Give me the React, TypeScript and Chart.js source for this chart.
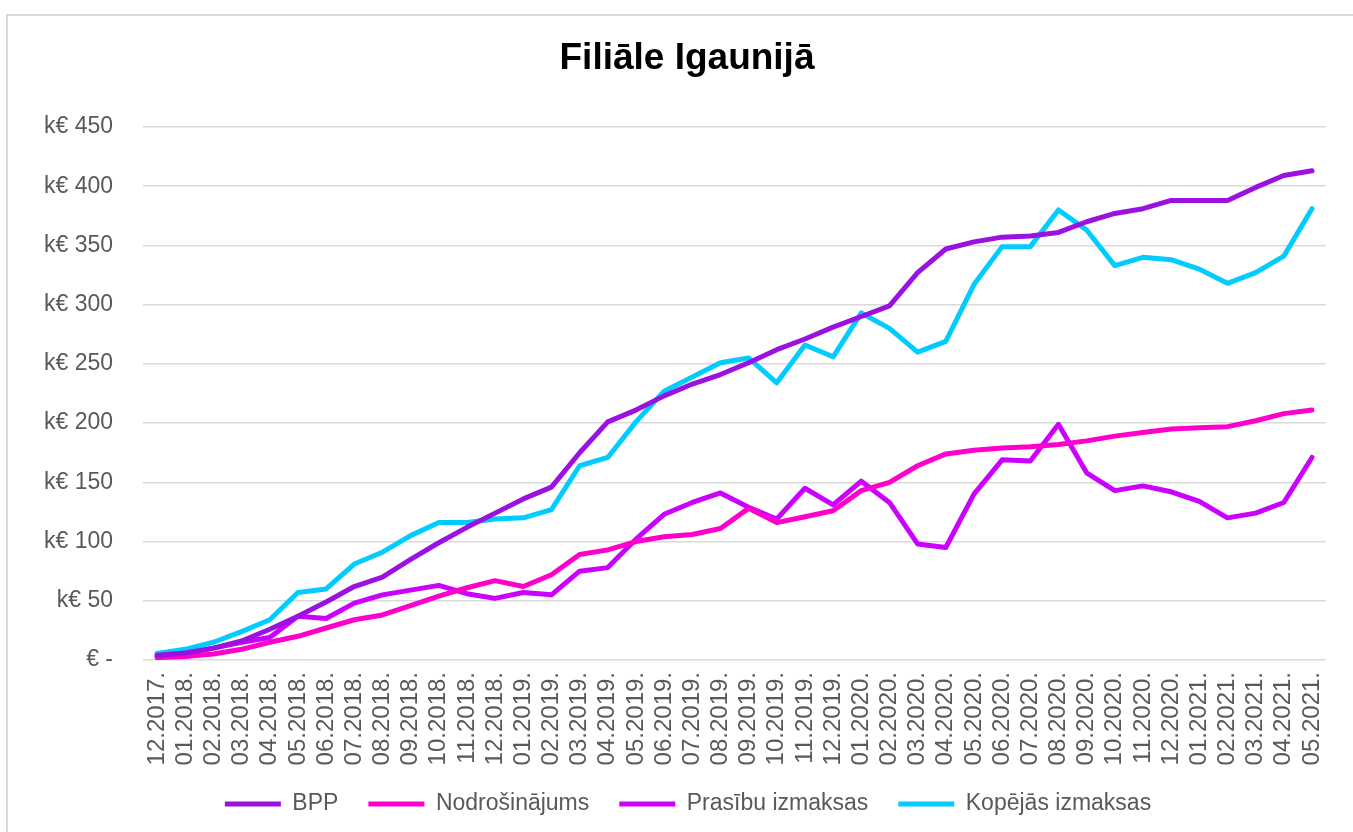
import React, { useEffect, useRef } from "react";
import { Chart, registerables } from "chart.js";

Chart.register(...registerables);

const months: string[] = [
  "12.2017.", "01.2018.", "02.2018.", "03.2018.", "04.2018.", "05.2018.", "06.2018.",
  "07.2018.", "08.2018.", "09.2018.", "10.2018.", "11.2018.", "12.2018.", "01.2019.",
  "02.2019.", "03.2019.", "04.2019.", "05.2019.", "06.2019.", "07.2019.", "08.2019.",
  "09.2019.", "10.2019.", "11.2019.", "12.2019.", "01.2020.", "02.2020.", "03.2020.",
  "04.2020.", "05.2020.", "06.2020.", "07.2020.", "08.2020.", "09.2020.", "10.2020.",
  "11.2020.", "12.2020.", "01.2021.", "02.2021.", "03.2021.", "04.2021.", "05.2021.",
];

const bpp: number[] = [
  4, 6, 10, 16, 26, 37, 49, 62, 70, 85, 99, 112, 124, 136, 146, 175, 201, 211, 223, 233,
  241, 251, 262, 271, 281, 290, 299, 327, 347, 353, 357, 358, 361, 370, 377, 381, 388,
  388, 388, 399, 409, 413,
];

const nodrosinajums: number[] = [
  2, 3, 5, 9, 15, 20, 27, 34, 38, 46, 54, 61, 67, 62, 72, 89, 93, 100, 104, 106, 111,
  128, 116, 121, 126, 143, 150, 164, 174, 177, 179, 180, 182, 185, 189, 192, 195, 196,
  197, 202, 208, 211,
];

const prasibuIzmaksas: number[] = [
  3, 5, 10, 15, 19, 37, 35, 48, 55, 59, 63, 56, 52, 57, 55, 75, 78, 102, 123, 133, 141,
  129, 119, 145, 131, 151, 133, 98, 95, 140, 169, 168, 199, 158, 143, 147, 142, 134, 120,
  124, 133, 171,
];

const kopejasIzmaksas: number[] = [
  5.5, 9, 15, 24, 34, 57, 60, 81, 91, 105, 116, 116, 119, 120, 127, 164, 171, 201, 227,
  239, 251, 255, 234, 266, 256, 293, 280, 260, 269, 317, 349, 349, 380, 363, 333, 340,
  338, 330, 318, 327, 341, 381,
];

const seriesNames: string[] = ["BPP", "Nodrošinājums", "Prasību izmaksas", "Kopējās izmaksas"];
const seriesColors: string[] = ["#9B12E0", "#FF00CC", "#CC00FF", "#00CCFF"];

const FONT = "'Liberation Sans', Arial, Helvetica, sans-serif";

const legendShift = {
  id: "legendShift",
  afterLayout(chart: any) {
    const lg = chart.legend;
    if (lg) {
      lg.left += 1;
      lg.right += 1;
      lg.top -= 3.5;
      lg.bottom -= 3.5;
    }
  },
};

export default function App() {
  const canvasRef = useRef<HTMLCanvasElement | null>(null);

  useEffect(() => {
    if (!canvasRef.current) return;
    const values = [bpp, nodrosinajums, prasibuIzmaksas, kopejasIzmaksas];
    const chart = new Chart(canvasRef.current, {
      type: "line",
      data: {
        labels: months,
        datasets: values.map((d, i) => ({
          label: seriesNames[i],
          data: d,
          borderColor: seriesColors[i],
          backgroundColor: seriesColors[i],
          borderWidth: 5,
          borderCapStyle: "round" as const,
          borderJoinStyle: "round" as const,
          pointRadius: 0,
          pointHoverRadius: 0,
          pointStyle: "line" as const,
          tension: 0,
          fill: false,
        })),
      },
      plugins: [legendShift],
      options: {
        animation: false,
        responsive: false,
        maintainAspectRatio: false,
        layout: { padding: { left: 40, right: 19, top: 0, bottom: 3 } },
        plugins: {
          tooltip: { enabled: false },
          title: {
            display: true,
            text: "Filiāle Igaunijā",
            color: "#000000",
            font: { family: FONT, size: 37, weight: "bold", lineHeight: 1.2 },
            padding: { top: 37, bottom: 45.6 },
          },
          legend: {
            display: true,
            position: "bottom",
            labels: {
              usePointStyle: true,
              pointStyleWidth: 56,
              padding: 30,
              color: "#595959",
              font: { family: FONT, size: 23 },
            },
          },
        },
        scales: {
          x: {
            offset: true,
            grid: { display: false, drawTicks: false },
            border: { display: false },
            ticks: {
              autoSkip: false,
              maxRotation: 90,
              minRotation: 90,
              padding: 12,
              color: "#595959",
              font: { family: FONT, size: 24 },
            },
            afterFit: (scale: any) => {
              scale.height = 106;
            },
          },
          y: {
            min: 0,
            max: 450,
            grid: { color: "#d9d9d9", lineWidth: 1.5, drawTicks: false },
            border: { display: false },
            ticks: {
              stepSize: 50,
              padding: 30,
              color: "#595959",
              font: { family: FONT, size: 23 },
              callback: (v: any) => (Number(v) === 0 ? "€ -" : "k€ " + v),
            },
            afterFit: (scale: any) => {
              scale.width = 103;
            },
          },
        },
      },
    });
    return () => chart.destroy();
  }, []);

  return (
    <div
      style={{
        position: "fixed",
        left: 0,
        top: 0,
        width: 1353,
        height: 832,
        background: "#ffffff",
        overflow: "hidden",
      }}
    >
      <div
        style={{
          position: "absolute",
          left: 6,
          top: 14,
          width: 1400,
          height: 900,
          border: "2px solid #d9d9d9",
          boxSizing: "border-box",
        }}
      />
      <canvas
        ref={canvasRef}
        width={1353}
        height={832}
        style={{ position: "absolute", left: 0, top: 0, width: 1353, height: 832 }}
      />
    </div>
  );
}
